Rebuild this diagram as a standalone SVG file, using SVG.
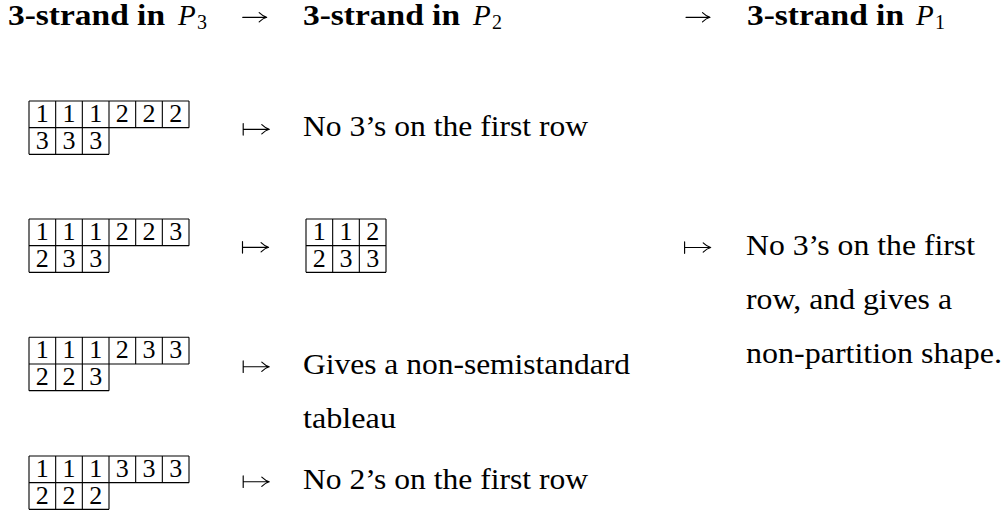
<svg xmlns="http://www.w3.org/2000/svg" width="1008" height="512" viewBox="0 0 1008 512">
  <!-- column headings -->
  <g id="head-p3">
    <text x="8" y="25" style="font-family: 'Liberation Serif', serif; font-size: 29px; font-weight: bold" textLength="157" lengthAdjust="spacingAndGlyphs">3-strand in</text>
    <text x="178" y="25" style="font-family: 'Liberation Serif', serif; font-size: 29px; font-style: italic">P</text>
    <text x="197" y="29" style="font-family: 'Liberation Serif', serif; font-size: 20px">3</text>
  </g>
  <g id="head-p2">
    <text x="303" y="25" style="font-family: 'Liberation Serif', serif; font-size: 29px; font-weight: bold" textLength="157" lengthAdjust="spacingAndGlyphs">3-strand in</text>
    <text x="473" y="25" style="font-family: 'Liberation Serif', serif; font-size: 29px; font-style: italic">P</text>
    <text x="492" y="29" style="font-family: 'Liberation Serif', serif; font-size: 20px">2</text>
  </g>
  <g id="head-p1">
    <text x="747" y="25" style="font-family: 'Liberation Serif', serif; font-size: 29px; font-weight: bold" textLength="157" lengthAdjust="spacingAndGlyphs">3-strand in</text>
    <text x="916" y="25" style="font-family: 'Liberation Serif', serif; font-size: 29px; font-style: italic">P</text>
    <text x="935" y="29" style="font-family: 'Liberation Serif', serif; font-size: 20px">1</text>
  </g>

  <!-- tableau 111222 / 333 -->
  <g id="tab-a">
    <path d="M29,101 H189 M29,127.67 H189 M29,154.33 H109 M29,101 V154.33 M55.67,101 V154.33 M82.33,101 V154.33 M109,101 V154.33 M135.67,101 V127.67 M162.33,101 V127.67 M189,101 V127.67" fill="none" stroke="#000" stroke-width="1.1"/>
    <text x="42.3" y="122" font-family="Times New Roman" font-size="26" text-anchor="middle">1</text>
    <text x="69" y="122" font-family="Times New Roman" font-size="26" text-anchor="middle">1</text>
    <text x="95.7" y="122" font-family="Times New Roman" font-size="26" text-anchor="middle">1</text>
    <text x="122.3" y="122" font-family="Times New Roman" font-size="26" text-anchor="middle">2</text>
    <text x="149" y="122" font-family="Times New Roman" font-size="26" text-anchor="middle">2</text>
    <text x="175.7" y="122" font-family="Times New Roman" font-size="26" text-anchor="middle">2</text>
    <text x="42.3" y="148.7" font-family="Times New Roman" font-size="26" text-anchor="middle">3</text>
    <text x="69" y="148.7" font-family="Times New Roman" font-size="26" text-anchor="middle">3</text>
    <text x="95.7" y="148.7" font-family="Times New Roman" font-size="26" text-anchor="middle">3</text>
  </g>

  <!-- tableau 111223 / 233 -->
  <g id="tab-b">
    <path d="M29,219 H189 M29,245.67 H189 M29,272.33 H109 M29,219 V272.33 M55.67,219 V272.33 M82.33,219 V272.33 M109,219 V272.33 M135.67,219 V245.67 M162.33,219 V245.67 M189,219 V245.67" fill="none" stroke="#000" stroke-width="1.1"/>
    <text x="42.3" y="240" font-family="Times New Roman" font-size="26" text-anchor="middle">1</text>
    <text x="69" y="240" font-family="Times New Roman" font-size="26" text-anchor="middle">1</text>
    <text x="95.7" y="240" font-family="Times New Roman" font-size="26" text-anchor="middle">1</text>
    <text x="122.3" y="240" font-family="Times New Roman" font-size="26" text-anchor="middle">2</text>
    <text x="149" y="240" font-family="Times New Roman" font-size="26" text-anchor="middle">2</text>
    <text x="175.7" y="240" font-family="Times New Roman" font-size="26" text-anchor="middle">3</text>
    <text x="42.3" y="266.7" font-family="Times New Roman" font-size="26" text-anchor="middle">2</text>
    <text x="69" y="266.7" font-family="Times New Roman" font-size="26" text-anchor="middle">3</text>
    <text x="95.7" y="266.7" font-family="Times New Roman" font-size="26" text-anchor="middle">3</text>
  </g>

  <!-- tableau 112 / 233 -->
  <g id="tab-b2">
    <path d="M306,219 H386 M306,245.67 H386 M306,272.33 H386 M306,219 V272.33 M332.67,219 V272.33 M359.33,219 V272.33 M386,219 V272.33" fill="none" stroke="#000" stroke-width="1.1"/>
    <text x="319.3" y="240" font-family="Times New Roman" font-size="26" text-anchor="middle">1</text>
    <text x="346" y="240" font-family="Times New Roman" font-size="26" text-anchor="middle">1</text>
    <text x="372.7" y="240" font-family="Times New Roman" font-size="26" text-anchor="middle">2</text>
    <text x="319.3" y="266.7" font-family="Times New Roman" font-size="26" text-anchor="middle">2</text>
    <text x="346" y="266.7" font-family="Times New Roman" font-size="26" text-anchor="middle">3</text>
    <text x="372.7" y="266.7" font-family="Times New Roman" font-size="26" text-anchor="middle">3</text>
  </g>

  <!-- tableau 111233 / 223 -->
  <g id="tab-c">
    <path d="M29,337.3 H189 M29,364 H189 M29,390.67 H109 M29,337.3 V390.67 M55.67,337.3 V390.67 M82.33,337.3 V390.67 M109,337.3 V390.67 M135.67,337.3 V364 M162.33,337.3 V364 M189,337.3 V364" fill="none" stroke="#000" stroke-width="1.1"/>
    <text x="42.3" y="358.3" font-family="Times New Roman" font-size="26" text-anchor="middle">1</text>
    <text x="69" y="358.3" font-family="Times New Roman" font-size="26" text-anchor="middle">1</text>
    <text x="95.7" y="358.3" font-family="Times New Roman" font-size="26" text-anchor="middle">1</text>
    <text x="122.3" y="358.3" font-family="Times New Roman" font-size="26" text-anchor="middle">2</text>
    <text x="149" y="358.3" font-family="Times New Roman" font-size="26" text-anchor="middle">3</text>
    <text x="175.7" y="358.3" font-family="Times New Roman" font-size="26" text-anchor="middle">3</text>
    <text x="42.3" y="385" font-family="Times New Roman" font-size="26" text-anchor="middle">2</text>
    <text x="69" y="385" font-family="Times New Roman" font-size="26" text-anchor="middle">2</text>
    <text x="95.7" y="385" font-family="Times New Roman" font-size="26" text-anchor="middle">3</text>
  </g>

  <!-- tableau 111333 / 222 -->
  <g id="tab-d">
    <path d="M29,456 H189 M29,482.67 H189 M29,509.33 H109 M29,456 V509.33 M55.67,456 V509.33 M82.33,456 V509.33 M109,456 V509.33 M135.67,456 V482.67 M162.33,456 V482.67 M189,456 V482.67" fill="none" stroke="#000" stroke-width="1.1"/>
    <text x="42.3" y="477" font-family="Times New Roman" font-size="26" text-anchor="middle">1</text>
    <text x="69" y="477" font-family="Times New Roman" font-size="26" text-anchor="middle">1</text>
    <text x="95.7" y="477" font-family="Times New Roman" font-size="26" text-anchor="middle">1</text>
    <text x="122.3" y="477" font-family="Times New Roman" font-size="26" text-anchor="middle">3</text>
    <text x="149" y="477" font-family="Times New Roman" font-size="26" text-anchor="middle">3</text>
    <text x="175.7" y="477" font-family="Times New Roman" font-size="26" text-anchor="middle">3</text>
    <text x="42.3" y="503.7" font-family="Times New Roman" font-size="26" text-anchor="middle">2</text>
    <text x="69" y="503.7" font-family="Times New Roman" font-size="26" text-anchor="middle">2</text>
    <text x="95.7" y="503.7" font-family="Times New Roman" font-size="26" text-anchor="middle">2</text>
  </g>

  <!-- descriptions -->
  <g id="note-a">
    <text x="303" y="136" font-family="serif" font-size="29" textLength="285" lengthAdjust="spacingAndGlyphs">No 3’s on the first row</text>
  </g>
  <g id="note-b">
    <text x="746" y="255" font-family="serif" font-size="29" textLength="229" lengthAdjust="spacingAndGlyphs">No 3’s on the first</text>
    <text x="746" y="309" font-family="serif" font-size="29" textLength="206" lengthAdjust="spacingAndGlyphs">row, and gives a</text>
    <text x="746" y="363" font-family="serif" font-size="29" textLength="256" lengthAdjust="spacingAndGlyphs">non-partition shape.</text>
  </g>
  <g id="note-c">
    <text x="303" y="374" font-family="serif" font-size="29" textLength="327" lengthAdjust="spacingAndGlyphs">Gives a non-semistandard</text>
    <text x="303" y="428" font-family="serif" font-size="29" textLength="93" lengthAdjust="spacingAndGlyphs">tableau</text>
  </g>
  <g id="note-d">
    <text x="303" y="489" font-family="serif" font-size="29" textLength="285" lengthAdjust="spacingAndGlyphs">No 2’s on the first row</text>
  </g>

  <!-- arrows: shaft, curved head, and the bar of each maps-to -->
  <g id="connectors" fill="none" stroke="#000" stroke-width="1.15" stroke-linecap="round">
    <path d="M242.7,17.3 H266.7 M259.2,12.7 Q263,16.4 266.7,17.3 Q263,18.2 259.2,21.9"/>
    <path d="M686,17.3 H710 M702.5,12.7 Q706.3,16.4 710,17.3 Q706.3,18.2 702.5,21.9"/>
    <path d="M243.2,123.5 V135.1 M243.2,129.3 H269.3 M261.8,124.7 Q265.6,128.4 269.3,129.3 Q265.6,130.2 261.8,133.9"/>
    <path d="M242.5,241.5 V253.1 M242.5,247.3 H268.6 M261.1,242.7 Q264.9,246.4 268.6,247.3 Q264.9,248.2 261.1,251.9"/>
    <path d="M684.6,241.7 V253.3 M684.6,247.5 H710.7 M703.2,242.9 Q707,246.6 710.7,247.5 Q707,248.4 703.2,252.1"/>
    <path d="M243.2,360.9 V372.5 M243.2,366.7 H269.3 M261.8,362.1 Q265.6,365.8 269.3,366.7 Q265.6,367.6 261.8,371.3"/>
    <path d="M243.2,475.9 V487.5 M243.2,481.7 H269.3 M261.8,477.1 Q265.6,480.8 269.3,481.7 Q265.6,482.6 261.8,486.3"/>
  </g>
</svg>
